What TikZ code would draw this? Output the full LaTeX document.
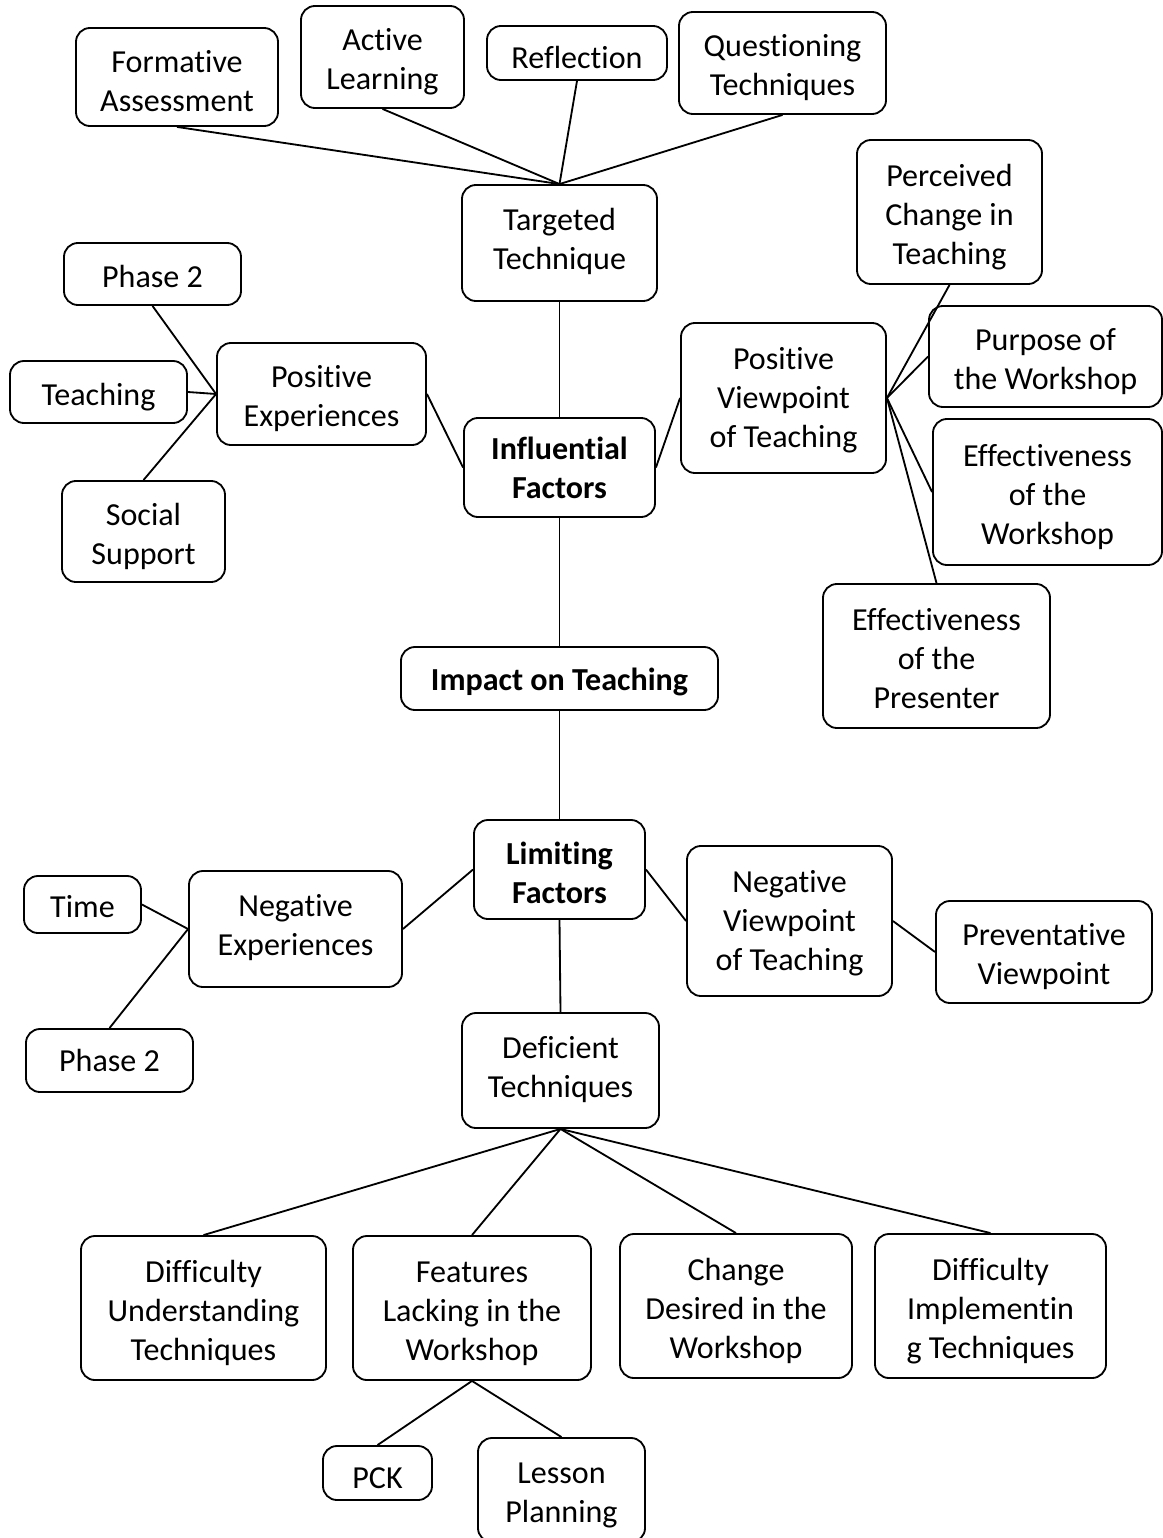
\documentclass[tikz,border=0pt]{standalone}
\usepackage{fontspec}
\setmainfont{Carlito}[Ligatures=NoCommon]
\usepackage{tikz}

\begin{document}
\begin{tikzpicture}[x=0.025cm,y=-0.025cm,
	box/.style={draw,line width=1.3pt,rounded corners=0.35cm,align=center,inner sep=0pt,text depth=5pt,font=\fontsize{22.8}{27.7}\selectfont},
	key/.style={box,font=\fontsize{22.8}{27.7}\selectfont\bfseries},
	one/.style={text height=23.9pt},
	two/.style={text height=51.6pt},
	three/.style={text height=79.3pt},
	link/.style={line width=1.3pt}]
		\useasboundingbox (0,0) rectangle (1163,1538);
		\node[box,two,minimum width=5.05cm,minimum height=2.45cm,text height=53.7pt] (fa) at (177,77) {Formative\\Assessment};
		\node[box,two,minimum width=4.075cm,minimum height=2.55cm] (al) at (382.5,57) {Active\\Learning};
		\node[box,one,minimum width=4.5cm,minimum height=1.35cm,text height=26.7pt] (refl) at (577,53) {Reflection};
		\node[box,two,minimum width=5.175cm,minimum height=2.55cm] (qt) at (782.5,63) {Questioning\\Techniques};
		\node[box,minimum width=4.875cm,minimum height=2.9cm,text depth=5.5pt] (tt) at (559.5,243) {Targeted\\Technique};
		\node[box,one,minimum width=4.425cm,minimum height=1.55cm] (pha) at (152.5,274) {Phase 2};
		\node[box,one,minimum width=4.425cm,minimum height=1.55cm] (teach) at (98.5,392) {Teaching};
		\node[box,two,minimum width=4.075cm,minimum height=2.525cm] (ss) at (143.5,531.5) {Social\\Support};
		\node[box,two,minimum width=5.225cm,minimum height=2.55cm] (pe) at (321.5,394) {Positive\\Experiences};
		\node[key,two,minimum width=4.775cm,minimum height=2.475cm,text height=48.7pt] (if) at (559.5,467.5) {Influential\\Factors};
		\node[box,three,minimum width=5.125cm,minimum height=3.75cm,text height=75pt] (pvt) at (783.5,398) {Positive\\Viewpoint\\of Teaching};
		\node[box,three,minimum width=4.625cm,minimum height=3.6cm] (pct) at (949.5,212) {Perceived\\Change in\\Teaching};
		\node[box,two,minimum width=5.825cm,minimum height=2.525cm] (pw) at (1045.5,356.5) {Purpose of\\the Workshop};
		\node[box,three,minimum width=5.725cm,minimum height=3.65cm] (ew) at (1047.5,492) {Effectiveness\\of the\\Workshop};
		\node[box,three,minimum width=5.675cm,minimum height=3.6cm] (ep) at (936.5,656) {Effectiveness\\of the\\Presenter};
		\node[key,one,minimum width=7.925cm,minimum height=1.575cm,text height=21.7pt] (it) at (559.5,678.5) {Impact on Teaching};
		\node[key,two,minimum width=4.275cm,minimum height=2.475cm,text height=53pt] (lf) at (559.5,869.5) {Limiting\\Factors};
		\node[box,minimum width=5.325cm,minimum height=2.9cm,text depth=5.5pt] (ne) at (295.5,929) {Negative\\Experiences};
		\node[box,one,minimum width=2.925cm,minimum height=1.425cm] (time) at (82.5,904.5) {Time};
		\node[box,one,minimum width=4.175cm,minimum height=1.575cm,text height=20.3pt] (phb) at (109.5,1060.5) {Phase 2};
		\node[box,three,minimum width=5.125cm,minimum height=3.75cm,text height=75pt] (nvt) at (789.5,921) {Negative\\Viewpoint\\of Teaching};
		\node[box,two,minimum width=5.4cm,minimum height=2.55cm] (pv) at (1044,952) {Preventative\\Viewpoint};
		\node[box,minimum width=4.925cm,minimum height=2.875cm,text depth=5.5pt] (dt) at (560.5,1070.5) {Deficient\\Techniques};
		\node[box,three,minimum width=6.125cm,minimum height=3.6cm] (du) at (203.5,1308) {Difficulty\\Understanding\\Techniques};
		\node[box,three,minimum width=5.95cm,minimum height=3.6cm] (fl) at (472,1308) {Features\\Lacking in the\\Workshop};
		\node[box,three,minimum width=5.8cm,minimum height=3.6cm] (cd) at (736,1306) {Change\\Desired in the\\Workshop};
		\node[box,three,minimum width=5.775cm,minimum height=3.6cm] (di) at (990.5,1306) {Difficulty\\Implementin\\g Techniques};
		\node[box,one,minimum width=2.725cm,minimum height=1.35cm,text height=26.7pt] (pck) at (377.5,1473) {PCK};
		\node[box,two,minimum width=4.175cm,minimum height=2.6cm] (lp) at (561.5,1490) {Lesson\\Planning};
		\draw[link] (fa.south)--(tt.north);
		\draw[link] (al.south)--(tt.north);
		\draw[link] (refl.south)--(tt.north);
		\draw[link] (qt.south)--(tt.north);
		\draw[link] (tt.south)--(if.north);
		\draw[link] (pha.south)--(pe.west);
		\draw[link] (teach.east)--(pe.west);
		\draw[link] (ss.north)--(pe.west);
		\draw[link] (pe.east)--(if.west);
		\draw[link] (if.east)--(pvt.west);
		\draw[link] (pvt.east)--(pct.south);
		\draw[link] (pvt.east)--(pw.west);
		\draw[link] (pvt.east)--(ew.west);
		\draw[link] (pvt.east)--(ep.north);
		\draw[link] (if.south)--(it.north);
		\draw[link] (it.south)--(lf.north);
		\draw[link] (lf.west)--(ne.east);
		\draw[link] (time.east)--(ne.west);
		\draw[link] (phb.north)--(ne.west);
		\draw[link] (lf.east)--(nvt.west);
		\draw[link] (nvt.east)--(pv.west);
		\draw[link] (lf.south)--(dt.north);
		\draw[link] (dt.south)--(du.north);
		\draw[link] (dt.south)--(fl.north);
		\draw[link] (dt.south)--(cd.north);
		\draw[link] (dt.south)--(di.north);
		\draw[link] (fl.south)--(pck.north);
		\draw[link] (fl.south)--(lp.north);
\end{tikzpicture}
\end{document}
